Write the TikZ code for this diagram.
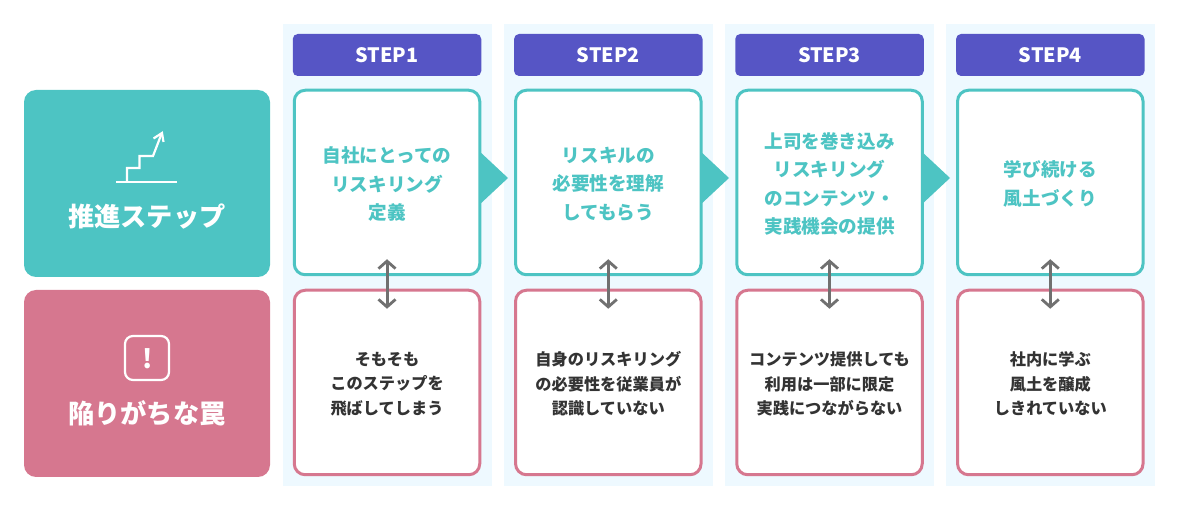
\documentclass[tikz,border=0pt]{standalone}
\usepackage{fontspec}
\setmainfont{Noto Sans CJK JP}
\usetikzlibrary{arrows.meta}
\definecolor{teal}{HTML}{4DC4C3}
\definecolor{rose}{HTML}{D6778F}
\definecolor{indig}{HTML}{5655C5}
\definecolor{pale}{HTML}{EEF9FF}
\definecolor{ink}{HTML}{333333}
\definecolor{gry}{HTML}{707070}
\tikzset{
  panel/.style={fill=pale,draw=none,anchor=north west,minimum width=209pt,minimum height=462pt,inner sep=0pt,outer sep=0pt},
  head/.style={fill=indig,draw=none,rounded corners=5pt,minimum width=188.5pt,minimum height=42pt,inner sep=0pt,text=white,font=\fontsize{19.8}{24}\selectfont\bfseries},
  topbox/.style={fill=white,draw=teal,line width=3pt,rounded corners=11pt,minimum width=185.5pt,minimum height=184.5pt,inner sep=0pt},
  botbox/.style={fill=white,draw=rose,line width=3pt,rounded corners=11pt,minimum width=185.5pt,minimum height=184.5pt,inner sep=0pt},
  toptext/.style={inner sep=0pt,text=teal,align=center,font=\fontsize{18.6}{28.5}\selectfont\bfseries},
  bottext/.style={inner sep=0pt,text=ink,align=center,font=\fontsize{16.2}{24.5}\selectfont\bfseries},
  side/.style={draw=none,rounded corners=12pt,minimum width=246pt,minimum height=187pt,inner sep=0pt},
  sidelabel/.style={text=white,inner sep=0pt,font=\fontsize{26.2}{32}\selectfont\bfseries},
  flow/.style={fill=teal,draw=none},
  link/.style={draw=gry,line width=3pt,{Straight Barb[length=7.5pt,width=17pt,line width=2.8pt]}-{Straight Barb[length=7.5pt,width=17pt,line width=2.8pt]}},
  icon/.style={draw=white,line width=2.2pt}
}
\begin{document}
\begin{tikzpicture}[x=1pt,y=-1pt]
\useasboundingbox (0,0) rectangle (1179,510);
% column panels
\node[panel] (p1) at (283,24) {};
\node[panel] (p2) at (504,24) {};
\node[panel] (p3) at (725,24) {};
\node[panel] (p4) at (946,24) {};
% flow triangles
\fill[flow] (478,150) -- (508,178) -- (478,206) -- cycle;
\fill[flow] (699,150) -- (729,178) -- (699,206) -- cycle;
\fill[flow] (920,150) -- (950,178) -- (920,206) -- cycle;
% side blocks
\node[side,fill=teal] (s1) at (147,183.5) {};
\node[side,fill=rose] (s2) at (147,383.5) {};
\node[sidelabel] (s1t) at (147,216.5) {推進ステップ};
\node[sidelabel] (s2t) at (147,413.5) {陥りがちな罠};
% stair icon
\draw[icon] (116,182) -- (177,182);
\draw[icon] (127,182) -- (127,168) -- (139.5,168) -- (139.5,156) -- (153,156) -- (161.5,134);
\draw[icon] (153.5,138.5) -- (162,133) -- (163.5,142);
% warning icon
\draw[icon,rounded corners=8pt] (125,336) rectangle (169,380);
\node[text=white,inner sep=0pt,font=\fontsize{26}{30}\selectfont\bfseries] (ex) at (148,358.5) {!};
% headers
\node[head] (h1) at (387,55) {STEP1};
\node[head] (h2) at (608.3,55) {STEP2};
\node[head] (h3) at (829.5,55) {STEP3};
\node[head] (h4) at (1050.3,55) {STEP4};
% top boxes
\node[topbox] (t1) at (387,182.5) {};
\node[topbox] (t2) at (608.3,182.5) {};
\node[topbox] (t3) at (829.5,182.5) {};
\node[topbox] (t4) at (1050.3,182.5) {};
\node[toptext] (tt1) at (387,184) {自社にとっての\\リスキリング\\定義};
\node[toptext] (tt2) at (608.3,184) {リスキルの\\必要性を理解\\してもらう};
\node[toptext] (tt3) at (829.5,184) {上司を巻き込み\\リスキリング\\のコンテンツ・\\実践機会の提供};
\node[toptext] (tt4) at (1050.3,184) {学び続ける\\風土づくり};
% bottom boxes
\node[botbox] (b1) at (387,382.5) {};
\node[botbox] (b2) at (608.3,382.5) {};
\node[botbox] (b3) at (829.5,382.5) {};
\node[botbox] (b4) at (1050.3,382.5) {};
\node[bottext] (bt1) at (387,384) {そもそも\\このステップを\\飛ばしてしまう};
\node[bottext] (bt2) at (608.3,384) {自身のリスキリング\\の必要性を従業員が\\認識していない};
\node[bottext] (bt3) at (829.5,384) {コンテンツ提供しても\\利用は一部に限定\\実践につながらない};
\node[bottext] (bt4) at (1050.3,384) {社内に学ぶ\\風土を醸成\\しきれていない};
% connectors
\foreach \i in {1,2,3,4}{
  \coordinate (u\i) at ([yshift=17pt]t\i.south);
  \coordinate (d\i) at ([yshift=-20pt]b\i.north);
  \draw[link] (u\i) -- (d\i);
}
\end{tikzpicture}
\end{document}
